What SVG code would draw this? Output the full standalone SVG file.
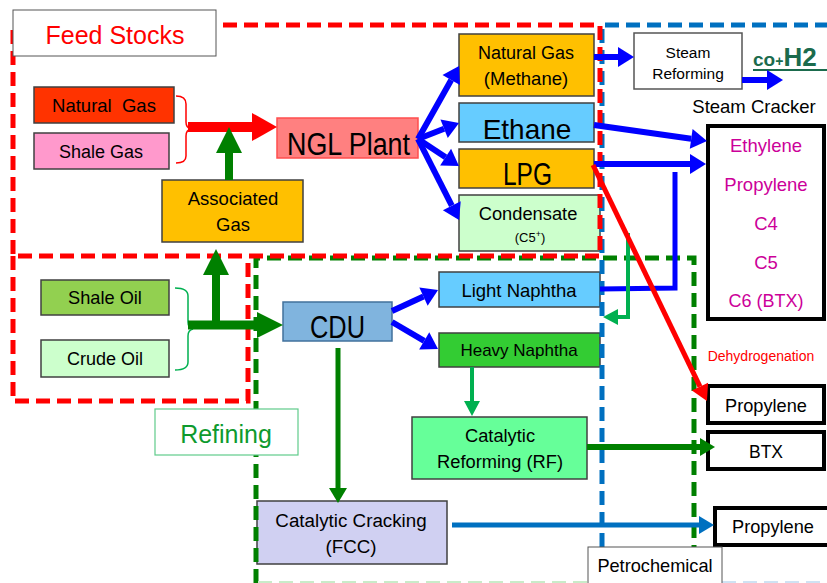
<svg xmlns="http://www.w3.org/2000/svg" width="827" height="583" viewBox="0 0 827 583">
<style>
text{font-family:"Liberation Sans",Arial,sans-serif;fill:#000;}
.c{text-anchor:middle;}
.box{stroke:#404040;stroke-width:1.5;}
.tk{fill:#fff;stroke:#000;stroke-width:4;}
.dash{fill:none;stroke-width:5;stroke-dasharray:14 7;}
.ln{fill:none;}
.mag{fill:#CC0099;font-size:18.5px;text-anchor:middle;}
</style>
<defs>
<marker id="mBlue" markerUnits="userSpaceOnUse" viewBox="0 -10 16 20" refX="0" refY="0" markerWidth="16" markerHeight="20" orient="auto" overflow="visible"><path d="M0,-10 L16,0 L0,10 z" fill="#0000FF"/></marker>
<marker id="mRed" markerUnits="userSpaceOnUse" viewBox="0 -9 16 18" refX="0" refY="0" markerWidth="16" markerHeight="18" orient="auto" overflow="visible"><path d="M0,-9 L16,0 L0,9 z" fill="#FF0000"/></marker>
<marker id="mRedBig" markerUnits="userSpaceOnUse" viewBox="0 -14 25 28" refX="0" refY="0" markerWidth="25" markerHeight="28" orient="auto" overflow="visible"><path d="M0,-14 L25,0 L0,14 z" fill="#FF0000"/></marker>
<marker id="mGreenBig" markerUnits="userSpaceOnUse" viewBox="0 -13 26 26" refX="0" refY="0" markerWidth="26" markerHeight="26" orient="auto" overflow="visible"><path d="M0,-13 L26,0 L0,13 z" fill="#008000"/></marker>
<marker id="mGreen" markerUnits="userSpaceOnUse" viewBox="0 -9 15 18" refX="0" refY="0" markerWidth="15" markerHeight="18" orient="auto" overflow="visible"><path d="M0,-9 L15,0 L0,9 z" fill="#008000"/></marker>
<marker id="mGreenL" markerUnits="userSpaceOnUse" viewBox="0 -8 15 16" refX="0" refY="0" markerWidth="15" markerHeight="16" orient="auto" overflow="visible"><path d="M0,-8 L15,0 L0,8 z" fill="#00B050"/></marker>
<marker id="mSteel" markerUnits="userSpaceOnUse" viewBox="0 -9 15 18" refX="0" refY="0" markerWidth="15" markerHeight="18" orient="auto" overflow="visible"><path d="M0,-9 L15,0 L0,9 z" fill="#0070C0"/></marker>
</defs>
<rect width="827" height="583" fill="#fff"/>

<!-- nodes -->
<g id="natural-gas"><rect class="box" x="34" y="87" width="140" height="36" fill="#FF3300"/><text class="c" x="104" y="112" font-size="18.5" xml:space="preserve" style="white-space:pre">Natural  Gas</text></g>
<g id="shale-gas"><rect class="box" x="34" y="133" width="135" height="36" fill="#FF99CC"/><text class="c" x="101" y="158" font-size="18">Shale Gas</text></g>
<g id="associated-gas"><rect class="box" x="162" y="180" width="141" height="62" fill="#FFC000"/><text class="c" x="233" y="205" font-size="18.5">Associated</text><text class="c" x="233" y="231" font-size="18.5">Gas</text></g>
<g id="ngl-plant"><rect x="277" y="118" width="141" height="40" fill="#FF8080" stroke="#FF4D4D" stroke-width="1.5"/><text x="287" y="155" font-size="31" textLength="123" lengthAdjust="spacingAndGlyphs">NGL Plant</text></g>
<g id="methane"><rect class="box" x="459" y="34" width="135" height="62" fill="#FFC000"/><text class="c" x="526" y="59" font-size="18">Natural Gas</text><text class="c" x="526" y="85" font-size="18.5">(Methane)</text></g>
<g id="ethane"><rect class="box" x="459" y="103" width="135" height="39" fill="#66CCFF"/><text class="c" x="527" y="139" font-size="28">Ethane</text></g>
<g id="lpg"><rect class="box" x="459" y="149" width="135" height="39" fill="#FFC000"/><text x="503" y="185" font-size="32" textLength="49" lengthAdjust="spacingAndGlyphs">LPG</text></g>
<g id="condensate"><rect class="box" x="459" y="195" width="141" height="56" fill="#CCFFCC"/><text class="c" x="528" y="220" font-size="18.3">Condensate</text><text class="c" x="530" y="242" font-size="13">(C5<tspan font-size="9" dy="-5">+</tspan><tspan dy="5">)</tspan></text></g>
<g id="steam-reforming"><rect x="634" y="33" width="108" height="56" fill="#fff" stroke="#555" stroke-width="1.5"/><text class="c" x="688" y="58" font-size="15.5">Steam</text><text class="c" x="688" y="79" font-size="15.5">Reforming</text></g>
<g id="co-h2"><text x="753" y="66" style="fill:#1B6B4D"><tspan font-size="19" font-weight="bold">co</tspan><tspan font-size="14" font-weight="bold">+</tspan><tspan font-size="26" font-weight="bold">H2</tspan></text><line x1="753" y1="70" x2="827" y2="70" stroke="#1B6B4D" stroke-width="2"/></g>
<g id="steam-cracker"><text class="c" x="754" y="113" font-size="18.5">Steam Cracker</text><rect class="tk" x="708" y="126" width="116" height="193"/><text class="mag" x="766" y="152">Ethylene</text><text class="mag" x="766" y="191">Propylene</text><text class="mag" x="766" y="230">C4</text><text class="mag" x="766" y="269">C5</text><text class="mag" x="766" y="307" style="font-size:18px">C6 (BTX)</text></g>
<g id="dehydrogenation"><text class="c" x="761" y="361" font-size="14" style="fill:#FF0000">Dehydrogenation</text></g>
<g id="propylene-dehydro"><rect class="tk" x="708" y="386" width="116" height="37"/><text class="c" x="766" y="412" font-size="18.2">Propylene</text></g>
<g id="btx"><rect class="tk" x="708" y="432" width="116" height="37"/><text class="c" x="766" y="458" font-size="17.5">BTX</text></g>
<g id="propylene-fcc"><rect class="tk" x="715" y="508" width="116" height="37"/><text class="c" x="773" y="533" font-size="18.2">Propylene</text></g>
<g id="shale-oil"><rect class="box" x="41" y="280" width="128" height="35" fill="#92D050"/><text class="c" x="105" y="304" font-size="18.2">Shale Oil</text></g>
<g id="crude-oil"><rect class="box" x="41" y="340" width="128" height="37" fill="#CCFFCC"/><text class="c" x="105" y="365" font-size="18">Crude Oil</text></g>
<g id="cdu"><rect x="283" y="302" width="109" height="39" fill="#80B4DE" stroke="#41719C" stroke-width="1.5"/><text x="310" y="338" font-size="31" textLength="55" lengthAdjust="spacingAndGlyphs">CDU</text></g>
<g id="light-naphtha"><rect class="box" x="439" y="272" width="161" height="35" fill="#66CCFF"/><text class="c" x="519" y="297" font-size="18.5">Light Naphtha</text></g>
<g id="heavy-naphtha"><rect class="box" x="439" y="333" width="161" height="34" fill="#33CC33"/><text class="c" x="519" y="356" font-size="17">Heavy Naphtha</text></g>
<g id="catalytic-reforming"><rect class="box" x="412" y="417" width="175" height="62" fill="#66FF99"/><text class="c" x="500" y="442" font-size="18.3">Catalytic</text><text class="c" x="500" y="468" font-size="18.3">Reforming (RF)</text></g>
<g id="fcc"><rect class="box" x="257" y="501" width="190" height="63" fill="#D0D0F2"/><text class="c" x="351" y="527" font-size="18.8">Catalytic Cracking</text><text class="c" x="351" y="553" font-size="18.8">(FCC)</text></g>

<!-- region boundaries -->
<g id="regions">
<path class="dash" d="M256,583 V258 H694 V583" stroke="#008000"/>
<path class="dash" d="M602,547 V25 H827" stroke="#0070C0"/>
<path class="dash" d="M13,25 H600 V256 H13 Z M13,256 V401 H248 V256" stroke="#FF0000"/>
<line x1="258" y1="582" x2="588" y2="582" stroke="#C9EBC9" stroke-width="2" stroke-dasharray="14 7"/>
<line x1="722" y1="582" x2="827" y2="582" stroke="#CFE2F3" stroke-width="2" stroke-dasharray="14 7"/>
</g>

<!-- connectors -->
<g id="connectors">
<path class="ln" d="M176,96 Q186,96 186,104 V122 Q186,128 191,129 Q186,130 186,136 V156 Q186,163 176,163" stroke="#FF0000" stroke-width="1.5"/>
<path class="ln" d="M175,288 Q188,288 188,296 V322 Q188,328 193,329 Q188,330 188,336 V362 Q188,370 175,370" stroke="#00B050" stroke-width="1.5"/>
<line x1="188" y1="127" x2="252" y2="127" stroke="#FF0000" stroke-width="10" marker-end="url(#mRedBig)"/>
<line x1="229" y1="180" x2="229" y2="153" stroke="#008000" stroke-width="8" marker-end="url(#mGreenBig)"/>
<line x1="188" y1="325" x2="257" y2="325" stroke="#008000" stroke-width="9" marker-end="url(#mGreenBig)"/>
<line x1="216" y1="325" x2="216" y2="275" stroke="#008000" stroke-width="8" marker-end="url(#mGreenBig)"/>
<line x1="418" y1="139" x2="451.2" y2="80" stroke="#0000FF" stroke-width="6" marker-end="url(#mBlue)"/>
<line x1="418" y1="139" x2="444.1" y2="128.8" stroke="#0000FF" stroke-width="6" marker-end="url(#mBlue)"/>
<line x1="418" y1="139" x2="445.6" y2="157.2" stroke="#0000FF" stroke-width="6" marker-end="url(#mBlue)"/>
<line x1="418" y1="139" x2="451.8" y2="205.7" stroke="#0000FF" stroke-width="6" marker-end="url(#mBlue)"/>
<line x1="594" y1="57" x2="618" y2="57" stroke="#0000FF" stroke-width="6" marker-end="url(#mBlue)"/>
<line x1="742" y1="80" x2="767" y2="80" stroke="#0000FF" stroke-width="6" marker-end="url(#mBlue)"/>
<line x1="594" y1="125" x2="691.2" y2="138.8" stroke="#0000FF" stroke-width="6" marker-end="url(#mBlue)"/>
<line x1="594" y1="164" x2="690" y2="164" stroke="#0000FF" stroke-width="6" marker-end="url(#mBlue)"/>
<polyline class="ln" points="600,289 675,288 675,172" stroke="#0000FF" stroke-width="5"/>
<polyline class="ln" points="628,233 628,317 618,317" stroke="#00B050" stroke-width="4" marker-end="url(#mGreenL)"/>
<line x1="593" y1="165" x2="700" y2="386.6" stroke="#FF0000" stroke-width="5" marker-end="url(#mRed)"/>
<line x1="392" y1="311" x2="423.5" y2="296.6" stroke="#0000FF" stroke-width="6" marker-end="url(#mBlue)"/>
<line x1="392" y1="322" x2="424.2" y2="340.9" stroke="#0000FF" stroke-width="6" marker-end="url(#mBlue)"/>
<line x1="338" y1="348" x2="338" y2="488" stroke="#008000" stroke-width="5" marker-end="url(#mGreen)"/>
<line x1="472" y1="367" x2="472" y2="401" stroke="#00B050" stroke-width="4" marker-end="url(#mGreenL)"/>
<line x1="587" y1="447" x2="700" y2="447" stroke="#008000" stroke-width="6" marker-end="url(#mGreen)"/>
<line x1="452" y1="525" x2="699" y2="525" stroke="#0070C0" stroke-width="5" marker-end="url(#mSteel)"/>
</g>

<!-- region labels -->
<g id="label-feed-stocks"><rect x="13" y="10" width="203" height="46" fill="#fff" stroke="#555" stroke-width="1"/><text class="c" x="115" y="44" font-size="25" style="fill:#FF0000">Feed Stocks</text></g>
<g id="label-refining"><rect x="155" y="409" width="143" height="46" fill="#fff" stroke="#5FCB8A" stroke-width="1.2"/><text class="c" x="226" y="443" font-size="25" style="fill:#0E9A2E">Refining</text></g>
<g id="label-petrochemical"><rect x="588" y="547" width="134" height="40" fill="#fff" stroke="#555" stroke-width="1"/><text class="c" x="655" y="572" font-size="18.2">Petrochemical</text></g>
</svg>
